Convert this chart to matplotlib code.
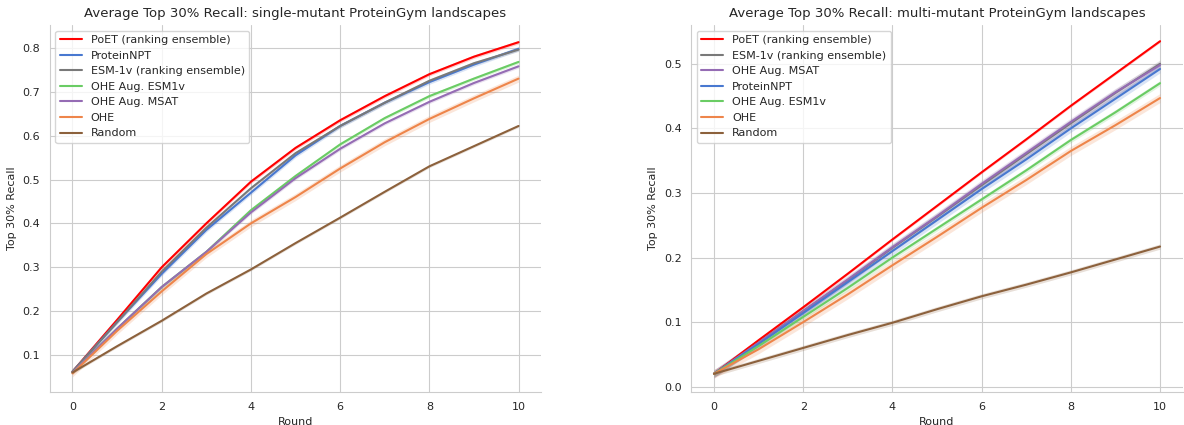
import matplotlib
matplotlib.use("Agg")
import matplotlib.pyplot as plt
import seaborn as sns
import numpy as np

rounds = np.arange(11)

# single-mutant landscapes
single_names = ["PoET (ranking ensemble)", "ProteinNPT", "ESM-1v (ranking ensemble)",
                "OHE Aug. ESM1v", "OHE Aug. MSAT", "OHE", "Random"]
single_poet = [0.062, 0.18, 0.30, 0.40, 0.495, 0.572, 0.635, 0.69, 0.74, 0.78, 0.813]
single_npt = [0.062, 0.175, 0.285, 0.385, 0.47, 0.555, 0.622, 0.675, 0.722, 0.762, 0.798]
single_esm = [0.062, 0.175, 0.29, 0.39, 0.48, 0.56, 0.622, 0.675, 0.725, 0.765, 0.796]
single_aug_esm = [0.06, 0.16, 0.255, 0.335, 0.43, 0.508, 0.58, 0.64, 0.69, 0.73, 0.768]
single_aug_msat = [0.06, 0.16, 0.255, 0.335, 0.425, 0.503, 0.57, 0.628, 0.677, 0.72, 0.758]
single_ohe = [0.058, 0.155, 0.245, 0.33, 0.40, 0.46, 0.525, 0.585, 0.638, 0.685, 0.73]
single_random = [0.06, 0.12, 0.178, 0.24, 0.295, 0.355, 0.413, 0.472, 0.53, 0.576, 0.622]
single_ci = [0.004, 0.005, 0.004, 0.004, 0.004, 0.008, 0.003]

# multi-mutant landscapes
multi_names = ["PoET (ranking ensemble)", "ESM-1v (ranking ensemble)", "OHE Aug. MSAT",
               "ProteinNPT", "OHE Aug. ESM1v", "OHE", "Random"]
multi_poet = [0.02, 0.072, 0.123, 0.175, 0.228, 0.28, 0.332, 0.383, 0.435, 0.485, 0.535]
multi_esm = [0.02, 0.068, 0.117, 0.165, 0.215, 0.263, 0.312, 0.36, 0.408, 0.455, 0.50]
multi_aug_msat = [0.02, 0.068, 0.117, 0.166, 0.216, 0.264, 0.314, 0.362, 0.41, 0.456, 0.498]
multi_npt = [0.02, 0.066, 0.114, 0.162, 0.21, 0.258, 0.306, 0.352, 0.40, 0.446, 0.492]
multi_aug_esm = [0.02, 0.063, 0.108, 0.153, 0.20, 0.245, 0.29, 0.335, 0.382, 0.425, 0.47]
multi_ohe = [0.02, 0.058, 0.10, 0.143, 0.188, 0.232, 0.277, 0.32, 0.365, 0.405, 0.447]
multi_random = [0.02, 0.04, 0.06, 0.08, 0.099, 0.12, 0.14, 0.158, 0.177, 0.197, 0.217]
multi_ci = [0.002, 0.006, 0.006, 0.006, 0.004, 0.007, 0.004]

colors = {
    "PoET (ranking ensemble)": "#ff0000",
    "ProteinNPT": "#4878d0",
    "ESM-1v (ranking ensemble)": "#797979",
    "OHE Aug. ESM1v": "#6acc64",
    "OHE Aug. MSAT": "#956cb4",
    "OHE": "#ee854a",
    "Random": "#8c613c",
}

sns.set_style("whitegrid")
plt.rcParams['font.family'] = ['DejaVu Sans']

fig, axes = plt.subplots(1, 2, figsize=(11.84, 4.25), dpi=100)

single_vals = [single_poet, single_npt, single_esm, single_aug_esm, single_aug_msat, single_ohe, single_random]
multi_vals = [multi_poet, multi_esm, multi_aug_msat, multi_npt, multi_aug_esm, multi_ohe, multi_random]

panels = [
    (axes[0], single_names, single_vals, single_ci, "single-mutant", (0.016, 0.852)),
    (axes[1], multi_names, multi_vals, multi_ci, "multi-mutant", (-0.008, 0.56)),
]

for ax, names, vals, ci, kind, ylim in panels:
    for name, v, c in zip(names, vals, ci):
        v = np.array(v)
        ax.fill_between(rounds, v - c, v + c, color=colors[name], alpha=0.2, linewidth=0)
        ax.plot(rounds, v, color=colors[name], label=name, linewidth=1.5)
    ax.set_title("Average Top 30% Recall: " + kind + " ProteinGym landscapes", fontsize=9.5)
    ax.set_xlabel("Round", fontsize=8)
    ax.set_ylabel("Top 30% Recall", fontsize=8)
    ax.set_ylim(ylim)
    ax.set_xlim(-0.51, 10.51)
    ax.set_xticks([0, 2, 4, 6, 8, 10])
    ax.tick_params(labelsize=8)
    ax.legend(loc="upper left", fontsize=8, frameon=True)

sns.despine()
fig.subplots_adjust(left=0.042, right=0.999, top=0.941, bottom=0.078, wspace=0.305)
fig.savefig("out.png")
